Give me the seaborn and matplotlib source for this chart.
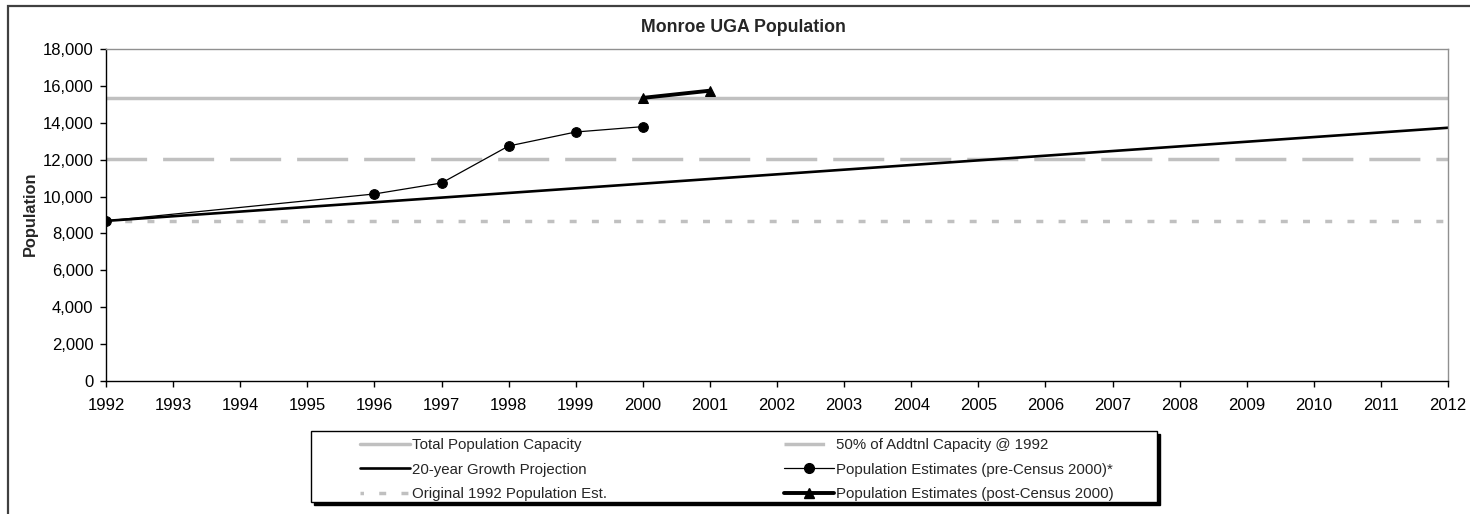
import matplotlib
matplotlib.use("Agg")
import matplotlib.pyplot as plt
from matplotlib.patches import Rectangle
from matplotlib.lines import Line2D
from matplotlib.ticker import FuncFormatter
import seaborn as sns

# ---- data ----
tick_years = list(range(1992, 2013))
line_years = [1992, 2012]
capacity_vals = [15350, 15350]
half_capacity_vals = [12015, 12015]
orig_1992_vals = [8680, 8680]
projection_vals = [8680, 13730]
pre_years = [1992, 1996, 1997, 1998, 1999, 2000]
pre_vals = [8680, 10140, 10735, 12740, 13500, 13790]
post_years = [2000, 2001]
post_vals = [15350, 15740]
y_ticks = list(range(0, 18001, 2000))

labels = {
    "cap": "Total Population Capacity",
    "half": "50% of Addtnl Capacity @ 1992",
    "proj": "20-year Growth Projection",
    "pre": "Population Estimates (pre-Census 2000)*",
    "orig": "Original 1992 Population Est.",
    "post": "Population Estimates (post-Census 2000)",
}

sns.set_theme(style="white")
plt.rcParams["font.family"] = ["Liberation Sans", "DejaVu Sans"]

W, H = 1470, 514
fig = plt.figure(figsize=(W / 100, H / 100), dpi=100)
fig.patch.set_facecolor("white")

# chart-area frame (top & left visible)
fig.patches.append(Rectangle((8 / W, -0.2), 1.3, (H - 6) / H + 0.2,
                             transform=fig.transFigure, fill=False,
                             edgecolor="#404040", lw=1.6, zorder=0))

left, right, top, bottom = 106 / W, 1448 / W, 1 - 49 / H, 1 - 381 / H
ax = fig.add_axes([left, bottom, right - left, top - bottom])

gray = "#C0C0C0"
lw_g = 2.5
sns.lineplot(x=line_years, y=capacity_vals, ax=ax, color=gray, lw=lw_g,
             label=labels["cap"], legend=False)
sns.lineplot(x=line_years, y=half_capacity_vals, ax=ax, color=gray, lw=lw_g,
             linestyle=(3, (14.7, 4.6)), label=labels["half"], legend=False)
sns.lineplot(x=line_years, y=orig_1992_vals, ax=ax, color=gray, lw=lw_g,
             linestyle=(1, (2.0, 4.4)), label=labels["orig"], legend=False)
sns.lineplot(x=line_years, y=projection_vals, ax=ax, color="black", lw=1.9,
             label=labels["proj"], legend=False)
sns.lineplot(x=pre_years, y=pre_vals, ax=ax, color="black", lw=0.9,
             marker="o", markersize=7, markeredgecolor="black",
             label=labels["pre"], legend=False)
sns.lineplot(x=post_years, y=post_vals, ax=ax, color="black", lw=2.8,
             marker="^", markersize=7.5, markeredgecolor="black",
             label=labels["post"], legend=False)

ax.set_xlim(1992, 2012)
ax.set_ylim(0, 18000)
ax.set_xticks(tick_years)
ax.set_xticklabels([str(y) for y in tick_years])
ax.set_yticks(y_ticks)
ax.yaxis.set_major_formatter(FuncFormatter(lambda v, p: f"{int(v):,}"))
ax.set_xlabel("")
ax.set_ylabel("")

for s in ["left", "bottom"]:
    ax.spines[s].set_color("black")
    ax.spines[s].set_linewidth(1.0)
for s in ["top", "right"]:
    ax.spines[s].set_color("#909090")
    ax.spines[s].set_linewidth(1.0)

ax.tick_params(axis="both", which="major", direction="out", length=4,
               width=1, color="black", labelsize=12, labelcolor="black",
               bottom=True, left=True)
ax.tick_params(axis="x", pad=8.5)
ax.tick_params(axis="y", pad=5)

fig.text(743 / W, 1 - 27 / H, "Monroe UGA Population", ha="center",
         va="center", fontsize=12.8, fontweight="bold")
fig.text(30 / W, 1 - 214 / H, "Population", ha="center", va="center",
         rotation=90, fontsize=11.8, fontweight="bold")

# legend box with shadow
bx0, bx1, by0, by1 = 311, 1157, 431, 502
fig.patches.append(Rectangle(((bx0 + 3) / W, 1 - (by1 + 3) / H),
                             (bx1 - bx0) / W, (by1 - by0) / H,
                             transform=fig.transFigure, facecolor="black",
                             edgecolor="black", lw=1, zorder=1))
fig.patches.append(Rectangle((bx0 / W, 1 - by1 / H), (bx1 - bx0) / W,
                             (by1 - by0) / H, transform=fig.transFigure,
                             facecolor="white", edgecolor="black", lw=1,
                             zorder=2))

handles = {h.get_label(): h for h in ax.get_lines()}

def mk2(key):
    h = handles[labels[key]]
    l = Line2D([], [], color=h.get_color(), lw=h.get_linewidth(),
               marker=h.get_marker(), markersize=h.get_markersize(),
               markeredgecolor=h.get_markeredgecolor())
    l.set_linestyle(h._unscaled_dash_pattern if h._unscaled_dash_pattern[1] else "-")
    return l

col1 = ["cap", "proj", "orig"]
col2 = ["half", "pre", "post"]
legkw = dict(frameon=False, loc="upper left", borderpad=0, borderaxespad=0,
             handlelength=3.3, handletextpad=0.2, labelspacing=0.68,
             fontsize=10.8, bbox_transform=fig.transFigure)
leg1 = fig.legend([mk2(k) for k in col1], [labels[k] for k in col1],
                  bbox_to_anchor=(360 / W, 1 - 438.5 / H), **legkw)
leg2 = fig.legend([mk2(k) for k in col2], [labels[k] for k in col2],
                  bbox_to_anchor=(784 / W, 1 - 438.5 / H), **legkw)
for lg in (leg1, leg2):
    lg.set_zorder(5)

fig.savefig("out.png", dpi=100)
